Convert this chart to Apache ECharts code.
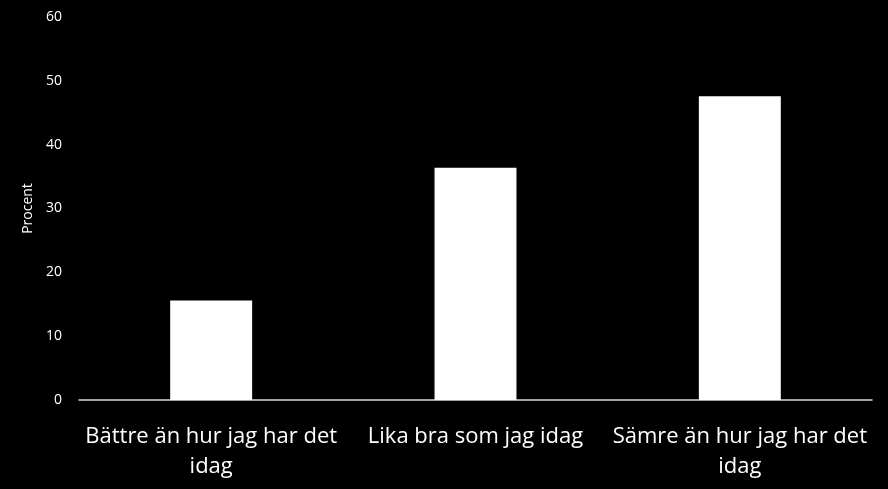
<!DOCTYPE html>
<html>
<head>
<meta charset="utf-8">
<script src="https://cdn.jsdelivr.net/npm/echarts@6/dist/echarts.min.js"></script>
<style>
html, body { margin: 0; padding: 0; background: #000; }
#chart { width: 888px; height: 489px; }
</style>
</head>
<body>
<div id="chart"></div>
<script>
// data
const categories = [
    "Bättre än hur jag har det\nidag",
    "Lika bra som jag idag",
    "Sämre än hur jag har det\nidag"
];
const values = [15.6, 36.4, 47.6];
const yTicks = [0, 60, 10]; // min, max, interval

const chart = echarts.init(document.getElementById("chart"), null, { renderer: "canvas" });

chart.setOption({
    backgroundColor: "#000000",
    animation: false,
    textStyle: { fontFamily: "Open Sans" },
    grid: { left: 79, right: 16, top: 17, bottom: 89 },
    xAxis: {
        type: "category",
        data: categories,
        axisLine: { lineStyle: { color: "#d9d9d9", width: 1.5 } },
        axisTick: { show: false },
        axisLabel: {
            color: "#ffffff",
            fontSize: 22,
            lineHeight: 30,
            margin: 22,
            interval: 0
        }
    },
    yAxis: {
        type: "value",
        min: yTicks[0],
        max: yTicks[1],
        interval: yTicks[2],
        name: "Procent",
        nameLocation: "middle",
        nameGap: 42,
        nameTextStyle: { color: "#ffffff", fontSize: 14 },
        axisLine: { show: false },
        axisTick: { show: false },
        splitLine: { show: false },
        axisLabel: { color: "#ffffff", fontSize: 14, margin: 17 }
    },
    series: [{
        type: "bar",
        data: values,
        barWidth: "31%",
        itemStyle: { color: "#ffffff" }
    }]
});
</script>
</body>
</html>
